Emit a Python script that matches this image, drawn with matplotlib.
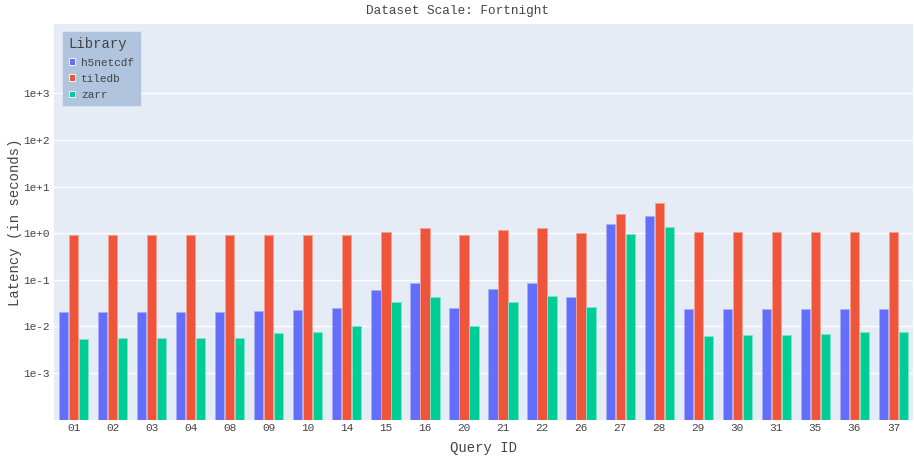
import matplotlib
matplotlib.use("Agg")
import matplotlib.pyplot as plt
from matplotlib.patches import Patch
import numpy as np

plt.rcParams['font.family'] = ['Liberation Mono', 'DejaVu Sans Mono']

queries = ["01", "02", "03", "04", "08", "09", "10", "14", "15", "16", "20",
           "21", "22", "26", "27", "28", "29", "30", "31", "35", "36", "37"]
h5netcdf = [0.0199, 0.0199, 0.0203, 0.0203, 0.0203, 0.0217, 0.0224, 0.0247, 0.061, 0.0834,
            0.025, 0.063, 0.0834, 0.0432, 1.56, 2.35, 0.0235, 0.0238, 0.0238, 0.0238, 0.0238, 0.0238]
tiledb = [0.905, 0.905, 0.905, 0.9, 0.905, 0.905, 0.905, 0.9, 1.05, 1.32,
          0.906, 1.16, 1.28, 1.02, 2.6, 4.4, 1.07, 1.085, 1.07, 1.07, 1.085, 1.05]
zarr = [0.00544, 0.00549, 0.00571, 0.00562, 0.00571, 0.0072, 0.00756, 0.0100, 0.0327, 0.0425,
        0.0100, 0.0338, 0.044, 0.0264, 0.98, 1.34, 0.0063, 0.00652, 0.0065, 0.00674, 0.00756, 0.00756]
series_names = ["h5netcdf", "tiledb", "zarr"]
series_values = [h5netcdf, tiledb, zarr]
colors = ["#636EFA", "#EF553B", "#00CC96"]
edge_colors = ["#A9AEFC", "#F5A293", "#7FE5CA"]

fig = plt.figure(figsize=(9.14, 4.58), dpi=100)
ax = fig.add_axes([54 / 914, 38 / 458, 859 / 914, 396 / 458])
ax.set_facecolor("#E5ECF6")

x = np.arange(len(queries))
slot = 0.256
for i, (name, vals) in enumerate(zip(series_names, series_values)):
    ax.bar(x + (i - 1) * slot, vals, width=slot * 0.93, bottom=1e-5,
           color=colors[i], edgecolor=edge_colors[i], linewidth=0.6, zorder=3)

ax.set_yscale("log")
ax.set_ylim(10 ** -4.01, 10 ** 4.49)
ax.set_xlim(-0.5, len(queries) - 0.5)
yt = [1e-3, 1e-2, 1e-1, 1e0, 1e1, 1e2, 1e3]
ax.set_yticks(yt)
ax.set_yticklabels(["1e-3", "1e-2", "1e-1", "1e+0", "1e+1", "1e+2", "1e+3"])
ax.yaxis.set_minor_locator(matplotlib.ticker.NullLocator())
ax.set_xticks(x)
ax.set_xticklabels(queries)
ax.tick_params(axis="both", length=0, labelsize=8, colors="#444444")
ax.tick_params(axis="x", pad=2)
ax.tick_params(axis="y", pad=3)
ax.grid(axis="y", color="white", linewidth=1.0, zorder=0)
ax.set_axisbelow(True)
for s in ax.spines.values():
    s.set_visible(False)

ax.set_xlabel("Query ID", fontsize=10, color="#444444", labelpad=6)
ax.set_ylabel("Latency (in seconds)", fontsize=10, color="#444444", labelpad=1)
fig.text(0.5, 1 - 11 / 458, "Dataset Scale: Fortnight", ha="center", va="center",
         fontsize=9.2, color="#444444")

handles = [Patch(facecolor=c, edgecolor="white", linewidth=0.6) for c in colors]
leg = ax.legend(handles, series_names, title="Library", loc="upper left",
                bbox_to_anchor=(0.0105, 0.98), fontsize=8, title_fontsize=10,
                frameon=True, fancybox=False, facecolor="#B0C4DE", edgecolor="#B0C4DE",
                framealpha=1, handlelength=0.55, handleheight=0.55, handletextpad=0.6,
                labelspacing=0.55, borderpad=0.5, borderaxespad=0)
leg._legend_box.align = "left"
for t in leg.get_texts():
    t.set_color("#444444")
leg.get_title().set_color("#444444")

fig.savefig("out.png", dpi=100)
